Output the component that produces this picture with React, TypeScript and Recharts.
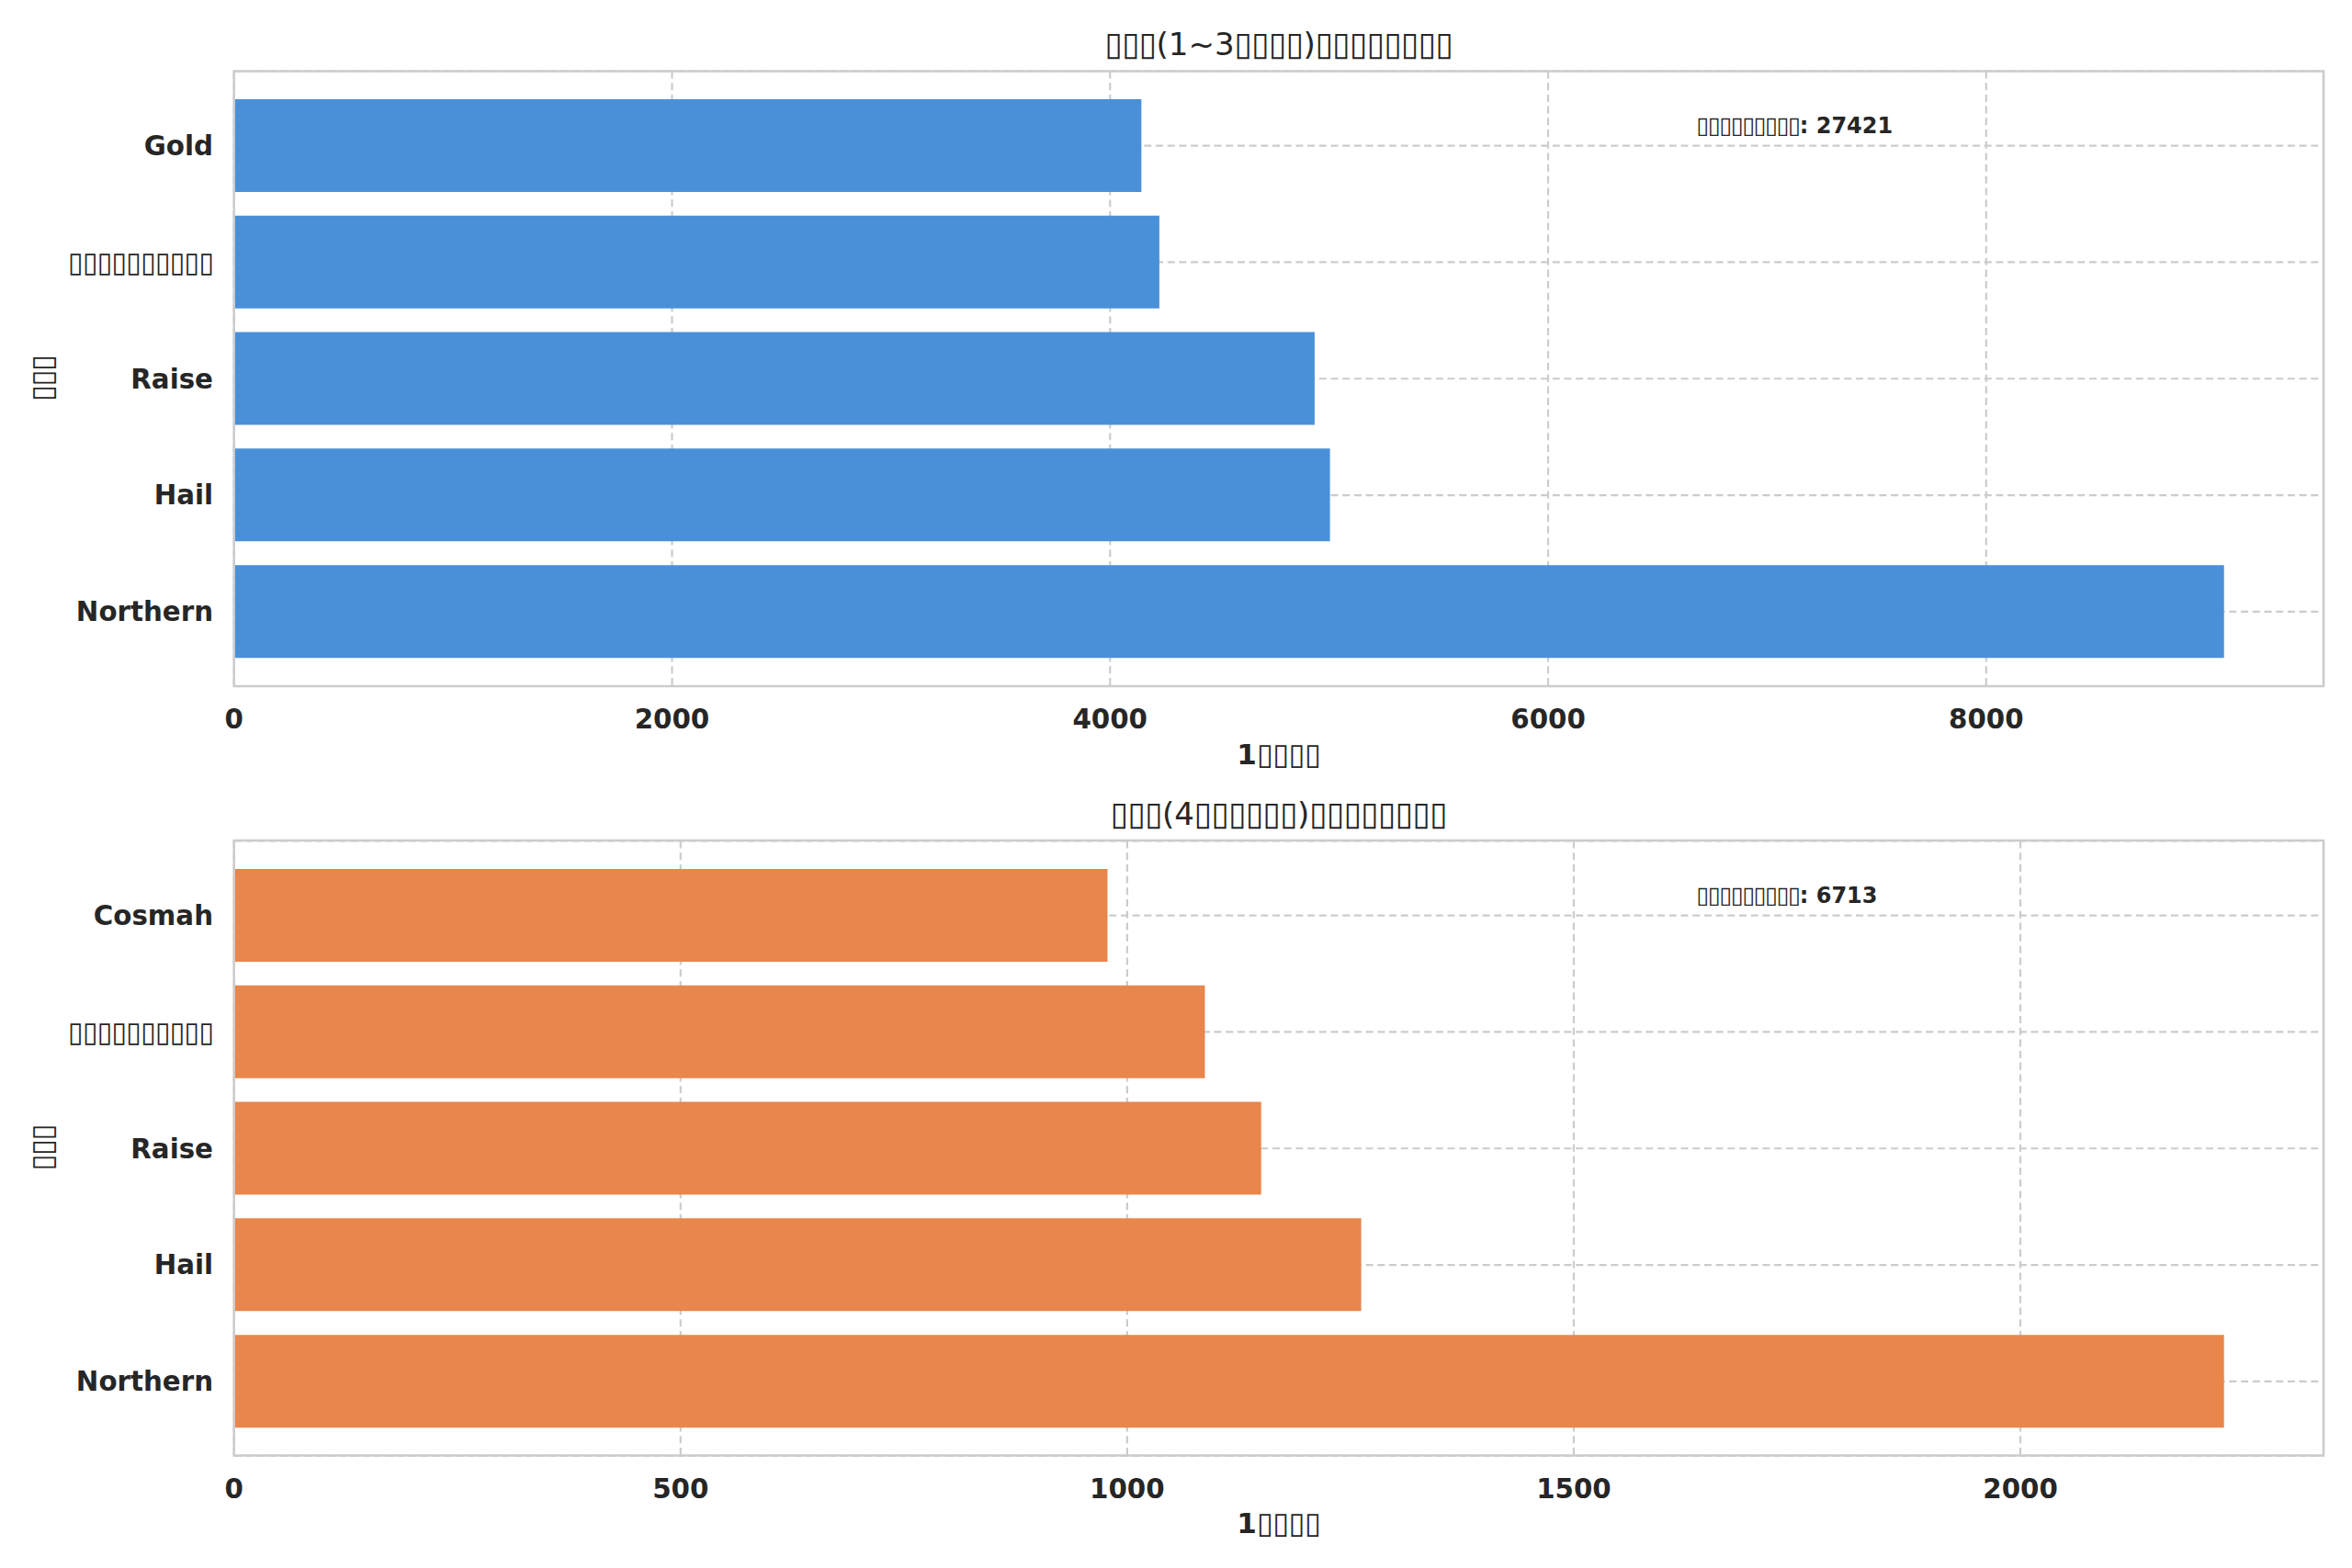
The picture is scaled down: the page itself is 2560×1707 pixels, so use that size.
import React from "react";
import { BarChart, Bar, XAxis, YAxis, CartesianGrid } from "recharts";

// ---------- data ----------
// ▯ stands for the glyphs that show only as empty boxes in the reference
const TOP_COMPANIES = ["Gold", "▯▯▯▯▯▯▯▯▯▯", "Raise", "Hail", "Northern"];
const TOP_COUNTS = [4143, 4225, 4934, 5004, 9086];
const TOP_TICKS = [0, 2000, 4000, 6000, 8000];
const TOP_TITLE = "▯▯▯(1~3▯▯▯▯)▯▯▯▯▯▯▯▯";
const TOP_NOTE = "▯▯▯▯▯▯▯▯▯: 27421";

const BOTTOM_COMPANIES = ["Cosmah", "▯▯▯▯▯▯▯▯▯▯", "Raise", "Hail", "Northern"];
const BOTTOM_COUNTS = [978, 1087, 1150, 1262, 2228];
const BOTTOM_TICKS = [0, 500, 1000, 1500, 2000];
const BOTTOM_TITLE = "▯▯▯(4▯▯▯▯▯▯)▯▯▯▯▯▯▯▯";
const BOTTOM_NOTE = "▯▯▯▯▯▯▯▯▯: 6713";

const X_LABEL = "1▯▯▯▯";
const Y_LABEL = "▯▯▯";

const BLUE = "#4a90d9";
const ORANGE = "#e8864c";
const TEXT = "#262626";
const GRID = "#cccccc";
const FONT = "'DejaVu Sans', 'Noto Sans CJK JP', sans-serif";

// ---------- layout ----------
const W = 2560;
const H = 1707;
const PANEL_H = 853;
const PANEL_SHIFT = 837.5;
const PLOT_LEFT = 254.7;
const PLOT_RIGHT = 2529;
const PLOT_TOP = 77.5;
const PLOT_BOTTOM = 747;
const TICK_FS = 29.3;
const BOX = "▯";

// measure the box glyph advance once so runs of boxes can be laid out at a tofu-like pitch
let boxAdv: number | null = null;
function getBoxAdv() {
  if (boxAdv !== null) return boxAdv;
  let adv = 0.77;
  try {
    const ctx = document.createElement("canvas").getContext("2d");
    if (ctx) {
      ctx.font = "100px 'DejaVu Sans'";
      const w = ctx.measureText(BOX).width / 100;
      if (w > 0) adv = w;
    }
  } catch (e) {
    /* keep default */
  }
  boxAdv = adv;
  return adv;
}

function rich(text: string, fontSize: number, pitch = 0.55, scale = 1.05) {
  const adv = getBoxAdv();
  const boxFs = fontSize * scale;
  const spacing = pitch * fontSize - adv * boxFs;
  const parts = text.match(/▯+|[^▯]+/g) || [];
  return parts.map((p, i) =>
    p[0] === BOX ? (
      <tspan key={i} fontSize={boxFs} fontWeight="normal" letterSpacing={spacing}>
        {p}
      </tspan>
    ) : (
      <tspan key={i}>{p}</tspan>
    )
  );
}

const YTick = (props: any) => {
  const { x, y, payload } = props;
  return (
    <text
      x={x}
      y={y}
      dy="0.355em"
      textAnchor="end"
      fontFamily={FONT}
      fontWeight="bold"
      fontSize={TICK_FS}
      fill={TEXT}
    >
      {rich(String(payload.value), TICK_FS, 0.54)}
    </text>
  );
};

function Panel({
  companies,
  counts,
  ticks,
  color,
  top,
}: {
  companies: string[];
  counts: number[];
  ticks: number[];
  color: string;
  top: number;
}) {
  const data = companies.map((name, i) => ({ name, value: counts[i] }));
  return (
    <div style={{ position: "absolute", left: 0, top, width: W, height: PANEL_H }}>
      <BarChart
        width={W}
        height={PANEL_H}
        data={data}
        layout="vertical"
        margin={{ top: PLOT_TOP, right: W - PLOT_RIGHT, bottom: 0, left: 0 }}
        barCategoryGap="10%"
      >
        <CartesianGrid stroke={GRID} strokeWidth={2.2} strokeDasharray="8 4.7" />
        <XAxis
          type="number"
          domain={[0, (dataMax: number) => dataMax * 1.05]}
          allowDataOverflow
          ticks={ticks}
          height={PANEL_H - PLOT_BOTTOM}
          axisLine={false}
          tickLine={false}
          tickSize={0}
          tickMargin={25}
          tick={{ fill: TEXT, fontSize: TICK_FS, fontWeight: "bold", fontFamily: FONT }}
        />
        <YAxis
          type="category"
          dataKey="name"
          width={PLOT_LEFT}
          axisLine={false}
          tickLine={false}
          tickSize={0}
          tickMargin={22.7}
          padding={{ top: 17.75, bottom: 17.75 }}
          interval={0}
          tick={<YTick />}
        />
        <Bar dataKey="value" fill={color} isAnimationActive={false} />
      </BarChart>
    </div>
  );
}

function Overlay() {
  const panels = [
    { dy: 0, title: TOP_TITLE, note: TOP_NOTE },
    { dy: PANEL_SHIFT, title: BOTTOM_TITLE, note: BOTTOM_NOTE },
  ];
  const cx = (PLOT_LEFT + PLOT_RIGHT) / 2;
  const cy = (PLOT_TOP + PLOT_BOTTOM) / 2;
  return (
    <svg
      width={W}
      height={H}
      style={{ position: "absolute", left: 0, top: 0, pointerEvents: "none" }}
    >
      {panels.map((p, i) => (
        <g key={i} fontFamily={FONT} fill={TEXT}>
          <rect
            x={PLOT_LEFT}
            y={PLOT_TOP + p.dy}
            width={PLOT_RIGHT - PLOT_LEFT}
            height={PLOT_BOTTOM - PLOT_TOP}
            fill="none"
            stroke={GRID}
            strokeWidth={2.5}
          />
          <text x={cx} y={60 + p.dy} textAnchor="middle" fontSize={34}>
            {rich(p.title, 34, 0.55)}
          </text>
          <text x={cx} y={831.5 + p.dy} textAnchor="middle" fontSize={31} fontWeight="bold">
            {rich(X_LABEL, 31, 0.56)}
          </text>
          <text
            x={46}
            y={cy + p.dy}
            textAnchor="middle"
            dominantBaseline="central"
            fontSize={31}
            fontWeight="bold"
            transform={`rotate(-90 46 ${cy + p.dy})`}
          >
            {rich(Y_LABEL, 31, 0.53)}
          </text>
          <text x={1846.5} y={145 + p.dy} textAnchor="start" fontSize={24} fontWeight="bold">
            {rich(p.note, 24, 0.52)}
          </text>
        </g>
      ))}
    </svg>
  );
}

export default function App() {
  return (
    <div
      style={{
        position: "absolute",
        left: 0,
        top: 0,
        width: W,
        height: H,
        background: "#ffffff",
        fontFamily: FONT,
        overflow: "hidden",
      }}
    >
      <Panel companies={TOP_COMPANIES} counts={TOP_COUNTS} ticks={TOP_TICKS} color={BLUE} top={0} />
      <Panel
        companies={BOTTOM_COMPANIES}
        counts={BOTTOM_COUNTS}
        ticks={BOTTOM_TICKS}
        color={ORANGE}
        top={PANEL_SHIFT}
      />
      <Overlay />
    </div>
  );
}
